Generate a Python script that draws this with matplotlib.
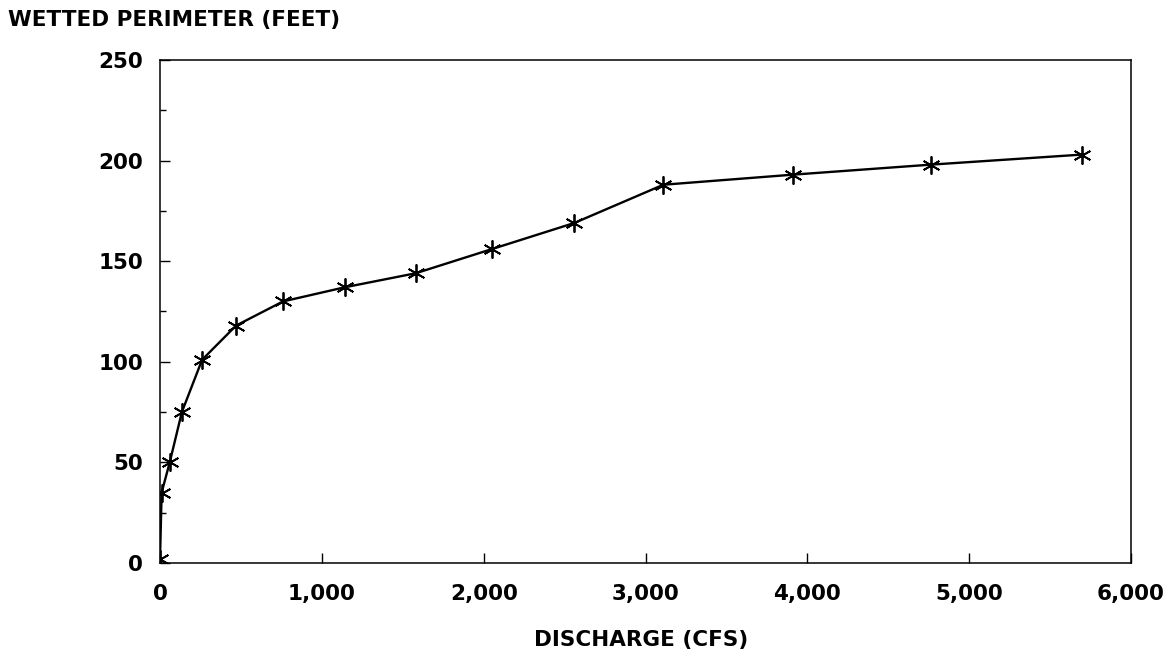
import matplotlib.pyplot as plt
from matplotlib.ticker import FuncFormatter, MultipleLocator

# discharge (cfs) vs wetted perimeter (feet)
discharge = [0, 10, 60, 135, 260, 470, 760, 1140, 1580, 2050, 2560, 3110, 3910, 4765, 5700]
perimeter = [2, 35, 50, 75, 101, 118, 130, 137, 144, 156, 169, 188, 193, 198, 203]

x_ticks = [0, 1000, 2000, 3000, 4000, 5000, 6000]
y_ticks = [0, 50, 100, 150, 200, 250]

plt.rcParams['font.family'] = ['DejaVu Sans']
plt.rcParams['font.weight'] = 'bold'

fig = plt.figure(figsize=(11.74, 6.55), dpi=100)
ax = fig.add_axes([0.1363, 0.1405, 0.8271, 0.7679])

ax.plot(discharge, perimeter, color='black', linewidth=1.7,
        marker=(6, 2, 0), markersize=13, markeredgewidth=1.3)

ax.set_xlim(0, 6000)
ax.set_ylim(0, 250)
ax.set_xticks(x_ticks)
ax.set_yticks(y_ticks)
ax.yaxis.set_minor_locator(MultipleLocator(25))
ax.xaxis.set_major_formatter(FuncFormatter(lambda v, p: f'{int(v):,}'))

ax.tick_params(axis='both', which='major', direction='in', length=7, width=1,
               labelsize=15.5)
ax.tick_params(axis='y', which='major', pad=12)
ax.tick_params(axis='x', which='major', pad=15)
ax.tick_params(axis='y', which='minor', direction='in', length=4, width=1)
ax.tick_params(top=False, right=False)
for s in ax.spines.values():
    s.set_linewidth(1.1)

for lab in ax.get_xticklabels() + ax.get_yticklabels():
    lab.set_fontweight('bold')

fig.text(8 / 1174, 1 - 20 / 655, 'WETTED PERIMETER (FEET)', fontsize=15.5,
         fontweight='bold', ha='left', va='center')
fig.text(641 / 1174, 1 - 640 / 655, 'DISCHARGE (CFS)', fontsize=15.5,
         fontweight='bold', ha='center', va='center')

fig.savefig('out.png', dpi=100)
